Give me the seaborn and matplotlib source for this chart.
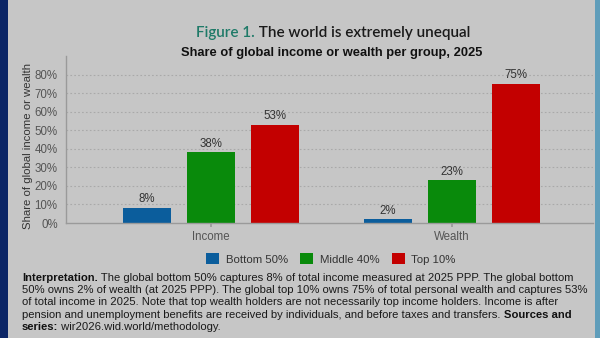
import matplotlib
matplotlib.use("Agg")
import matplotlib.pyplot as plt
from matplotlib.patches import Rectangle
import seaborn as sns
import pandas as pd

# Shares of global income and wealth by group, 2025 (%)
categories = ["Income", "Wealth"]
groups = ["Bottom 50%", "Middle 40%", "Top 10%"]
income_share = [8, 38, 53]
wealth_share = [2, 23, 75]
y_ticks = [0, 10, 20, 30, 40, 50, 60, 70, 80]
y_tick_labels = ["0%", "10%", "20%", "30%", "40%", "50%", "60%", "70%", "80%"]

group_colors = ["#0b5d9c", "#098a0b", "#c30000"]
BG = "#c6c6c6"
FONT = ["Liberation Sans", "DejaVu Sans"]

df = pd.DataFrame({
    "category": [c for c in categories for _ in groups],
    "group": groups * len(categories),
    "share": income_share + wealth_share,
})

sns.set_theme(style="white")
plt.rcParams["font.family"] = FONT

W, H, DPI = 600, 338, 100
fig = plt.figure(figsize=(W / DPI, H / DPI), dpi=DPI, facecolor=BG)

# Frame bands at the sides of the slide
fig.patches.append(Rectangle((0, 0), 8 / W, 1, transform=fig.transFigure,
                             facecolor="#0b2566", edgecolor="none", zorder=0))
fig.patches.append(Rectangle((595 / W, 0), 5 / W, 1, transform=fig.transFigure,
                             facecolor="#5f9dba", edgecolor="none", zorder=0))

ax = fig.add_axes([66 / W, 1 - 223 / H, (593 - 66) / W, (223 - 56) / H])
ax.set_facecolor(BG)

sns.barplot(data=df, x="category", y="share", hue="group", order=categories,
            hue_order=groups, palette=group_colors, width=0.8, gap=0.25,
            saturation=1, ax=ax, legend=True, linewidth=0, edgecolor="none")

ax.set_xlim(-0.602, 1.585)
ax.set_ylim(0, 90)
ax.set_yticks(y_ticks)
ax.set_yticklabels(y_tick_labels)
ax.set_xlabel("")
ax.set_ylabel("Share of global income or wealth", fontsize=8.2, color="#333333")
ax.yaxis.set_label_coords(-0.062, 0.464)

for y in y_ticks[1:]:
    ax.axhline(y, color="#a9a9a9", lw=0.8, ls=(0, (1.5, 2)), zorder=0)

for s in ["top", "right"]:
    ax.spines[s].set_visible(False)
for s in ["left", "bottom"]:
    ax.spines[s].set_color("#9a9a9a")
    ax.spines[s].set_linewidth(1.0)

ax.tick_params(axis="y", length=0, labelsize=8.3, labelcolor="#555555", pad=6)
ax.tick_params(axis="x", length=3, color="#9a9a9a", labelsize=8.3,
               labelcolor="#555555", pad=3)
ax.xaxis.set_ticks_position("bottom")

for cont in ax.containers:
    ax.bar_label(cont, labels=[f"{v:.0f}%" for v in cont.datavalues],
                 padding=2, fontsize=8.3, color="#333333")

handles, labels = ax.get_legend_handles_labels()
ax.legend_.remove()
fig.legend(handles, labels, loc="center", bbox_to_anchor=(331 / W, 1 - 259 / H),
           ncol=3, frameon=False, fontsize=8.2, handlelength=1.15,
           handleheight=1.1, handletextpad=0.55, columnspacing=1.1,
           labelcolor="#333333")

renderer = fig.canvas.get_renderer()


def draw_runs(x_px, y_px, runs, align="left", size=8.0, family=FONT):
    """Draw consecutive text runs with their own styles on one row."""
    texts = []
    for s, props in runs:
        t = fig.text(0, 0, s, fontsize=size, family=family, va="center",
                     ha="left", **props)
        texts.append(t)
    widths = [t.get_window_extent(renderer).width for t in texts]
    total = sum(widths)
    x = x_px - (total / 2 if align == "center" else 0)
    for t, w in zip(texts, widths):
        t.set_position((x / W, 1 - y_px / H))
        x += w


draw_runs(333, 33, [("Figure 1.", dict(color="#1f7a68", weight="semibold")),
                    (" The world is extremely unequal",
                     dict(color="#1a1a1a", weight="semibold"))],
          align="center", size=11, family=["Lato", "DejaVu Sans"])
draw_runs(331.5, 53, [("Share of global income or wealth per group, 2025",
                       dict(color="#111111", weight="bold"))],
          align="center", size=9.3)

B = dict(color="#111111", weight="bold")
R = dict(color="#1a1a1a")
lines = [
    [("Interpretation.", B), (" The global bottom 50% captures 8% of total income measured at 2025 PPP. The global bottom", R)],
    [("50% owns 2% of wealth (at 2025 PPP). The global top 10% owns 75% of total personal wealth and captures 53%", R)],
    [("of total income in 2025. Note that top wealth holders are not necessarily top income holders. Income is after", R)],
    [("pension and unemployment benefits are received by individuals, and before taxes and transfers. ", R), ("Sources and", B)],
    [("series:", B), (" wir2026.wid.world/methodology.", R)],
]
for i, runs in enumerate(lines):
    draw_runs(22, 278 + i * 12.2, runs, size=8.15)

fig.savefig("out.png", dpi=DPI, facecolor=BG)
